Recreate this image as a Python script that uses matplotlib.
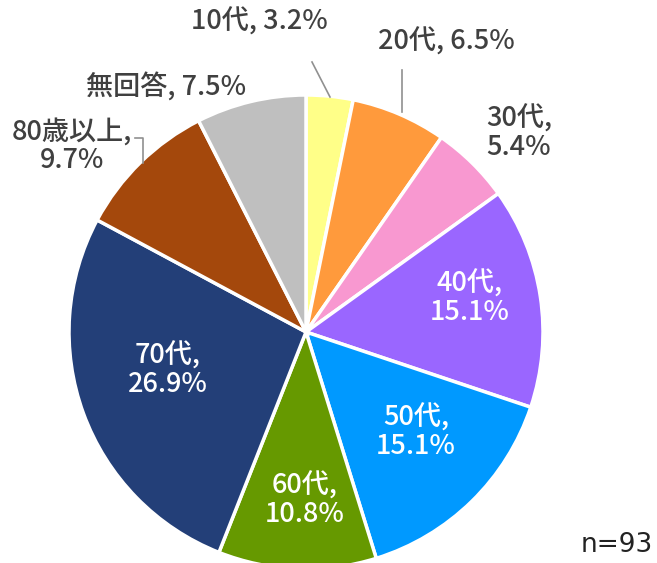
import matplotlib
matplotlib.use("Agg")
import matplotlib.pyplot as plt

plt.rcParams['font.family'] = ['Noto Sans CJK JP', 'DejaVu Sans']

categories = ["10代", "20代", "30代", "40代", "50代", "60代", "70代", "80歳以上", "無回答"]
values = [3.2, 6.5, 5.4, 15.1, 15.1, 10.8, 26.9, 9.7, 7.5]
colors = ["#FFFF88", "#FF9A3C", "#F898D0", "#9A66FF", "#0099FF", "#669900", "#233F78", "#A4480C", "#BFBFBF"]
n_label = "n=93"

W, H = 657, 563
fig = plt.figure(figsize=(W / 100, H / 100), dpi=100)
ax = fig.add_axes([0, 0, 1, 1])

cx, cy, r = 306, H - 332, 237
ax.pie(values, colors=colors, startangle=90, counterclock=False,
       center=(cx, cy), radius=r, frame=True,
       wedgeprops=dict(edgecolor="white", linewidth=2.5))
ax.set_xlim(0, W)
ax.set_ylim(0, H)
ax.set_aspect("equal")
ax.axis("off")

dark = "#404040"
fs = 19.5

def py(y):
    return H - y

# label positions (pixel coords, top-left origin)
outside = {
    0: dict(x=259, y=22, ha="center", lines=1),
    1: dict(x=446, y=42, ha="center", lines=1),
    2: dict(x=486, y=133, ha="left", lines=2),
    8: dict(x=166, y=86, ha="center", lines=1),
    7: dict(x=72, y=146, ha="center", lines=2),
}
inside = {
    3: (470, 298),
    4: (416, 432),
    5: (305, 500),
    6: (168, 370),
}

for i, cat in enumerate(categories):
    if i in outside:
        o = outside[i]
        sep = "\n" if o["lines"] == 2 else " "
        txt = f"{cat},{sep}{values[i]}%"
        ax.text(o["x"], py(o["y"]), txt, ha=o["ha"], va="center", fontsize=fs,
                color=dark, linespacing=1.05, fontweight="medium",
                multialignment="center" if i == 7 else "left")
    else:
        x, y = inside[i]
        ax.text(x, py(y), f"{cat},\n{values[i]}%", ha="center", va="center", fontsize=fs,
                color="white", linespacing=1.05, fontweight="medium")

# leader lines
lc = "#909090"
ax.plot([312, 330], [py(62), py(97)], color=lc, lw=1.2)
ax.plot([402, 402], [py(70), py(112)], color=lc, lw=1.2)
ax.plot([135, 143, 143], [py(138), py(138), py(163)], color=lc, lw=1.2)

ax.text(617, py(545), n_label, ha="center", va="center", fontsize=19, color="#222222",
        family=["DejaVu Sans"])

fig.savefig("out.png", dpi=100)
